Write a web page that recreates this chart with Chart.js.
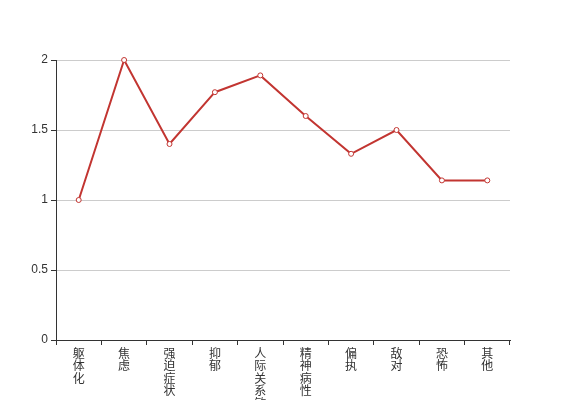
<!DOCTYPE html>
<html><head><meta charset="utf-8">
<script src="https://cdn.jsdelivr.net/npm/chart.js@4"></script>
<style>html,body{margin:0;padding:0;background:#fff;overflow:hidden}</style>
</head><body>
<canvas id="c" width="567" height="400"></canvas>
<script>
const categories = ['躯体化','焦虑','强迫症状','抑郁','人际关系敏感','精神病性','偏执','敌对','恐怖','其他'];
const values = [1.0, 2.0, 1.4, 1.77, 1.89, 1.6, 1.33, 1.5, 1.14, 1.14];
const yTicks = [0, 0.5, 1, 1.5, 2];

const FONT = "'Liberation Sans', 'Noto Sans CJK SC', sans-serif";
new Chart(document.getElementById('c'), {
  type: 'line',
  data: {
    labels: categories.map(s => Array.from(s)),
    datasets: [{
      data: values,
      borderColor: '#c23531',
      borderWidth: 2,
      pointRadius: 2.5,
      pointBorderWidth: 1,
      pointBackgroundColor: '#fff',
      pointBorderColor: '#c23531',
      tension: 0,
      clip: false
    }]
  },
  options: {
    responsive: false,
    animation: false,
    layout: { padding: { top: 60, right: 57, left: 0, bottom: 0 } },
    plugins: { legend: { display: false }, tooltip: { enabled: false } },
    scales: {
      x: {
        offset: true,
        grid: { display: true, drawOnChartArea: false, offset: true, tickLength: 5, color: '#333', tickColor: '#333' },
        border: { color: '#333', width: 1 },
        ticks: { color: '#333', font: { family: FONT, size: 12, lineHeight: 1.05 }, padding: 3, maxRotation: 0, minRotation: 0, autoSkip: false },
        afterFit: s => { s.height = 60; }
      },
      y: {
        min: 0, max: 2,
        afterBuildTicks: s => { s.ticks = yTicks.map(v => ({ value: v })); },
        grid: { color: ctx => ctx.tick && ctx.tick.value === 0 ? 'rgba(0,0,0,0)' : '#ccc', tickLength: 5, tickColor: '#333' },
        border: { color: '#333', width: 1 },
        ticks: { color: '#333', font: { family: FONT, size: 12 }, padding: 3, callback: v => String(v) },
        afterFit: s => { s.width = 56; }
      }
    }
  }
});
</script>
</body></html>
